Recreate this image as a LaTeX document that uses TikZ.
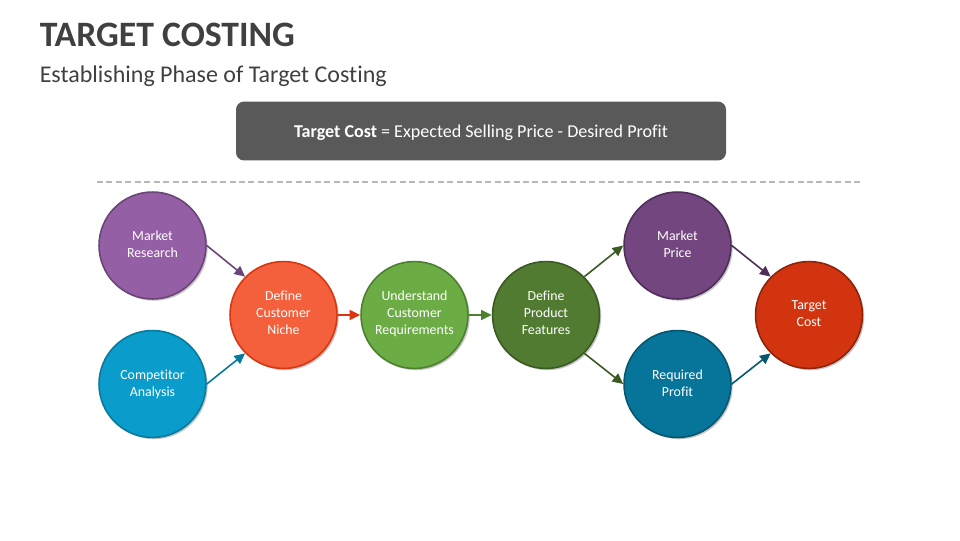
\documentclass[tikz,border=0pt]{standalone}
\usepackage{fontspec}
\setmainfont[Ligatures=NoCommon]{Carlito}
\usetikzlibrary{arrows.meta,shadows}
\definecolor{ink}{HTML}{404040}
\definecolor{boxgray}{HTML}{595959}
\definecolor{dashgray}{HTML}{B8B8B8}
\definecolor{purpleA}{HTML}{955FA5}\definecolor{purpleAd}{HTML}{6B4578}
\definecolor{blueA}{HTML}{0A9DCB}\definecolor{blueAd}{HTML}{087A9C}
\definecolor{orangeA}{HTML}{F4603C}\definecolor{orangeAd}{HTML}{D9360F}
\definecolor{greenA}{HTML}{6CAC44}\definecolor{greenAd}{HTML}{4D7F30}
\definecolor{greenB}{HTML}{527B32}\definecolor{greenBd}{HTML}{3B5A23}
\definecolor{purpleB}{HTML}{74467F}\definecolor{purpleBd}{HTML}{4F2F59}
\definecolor{blueB}{HTML}{07759A}\definecolor{blueBd}{HTML}{05566F}
\definecolor{redB}{HTML}{D2340F}\definecolor{redBd}{HTML}{8E240B}
\newcommand\lift[2][0pt]{\raisebox{#1}[\height][\depth]{\begin{tabular}{@{}c@{}}#2\end{tabular}}}
\tikzset{
  x=0.75pt,y=-0.75pt,
  softshadow/.style={
    general shadow={shadow xshift=1.4pt,shadow yshift=-1.4pt,fill=black,opacity=.06,scale=1.04},
    general shadow={shadow xshift=1.4pt,shadow yshift=-1.4pt,fill=black,opacity=.08,scale=1.02},
    general shadow={shadow xshift=1.2pt,shadow yshift=-1.2pt,fill=black,opacity=.10}},
  bubble/.style n args={2}{circle,minimum size=80.2pt,inner sep=0pt,line width=1.2pt,
    fill=#1,draw=#2,softshadow,text=white,
    font=\fontsize{10.4pt}{12.75pt}\selectfont},
  flow/.style={line width=1.2pt,-{Triangle[length=8pt,width=7.5pt]}},
}
\begin{document}
\begin{tikzpicture}
\useasboundingbox (0,0) rectangle (960,540);
\node[anchor=west,inner sep=0pt,text=ink,font=\fontsize{26.8pt}{30pt}\selectfont\bfseries] (title) at (39.5,34.5) {TARGET COSTING};
\node[anchor=west,inner sep=0pt,text=ink,font=\fontsize{18pt}{22pt}\selectfont] (sub) at (39.5,76) {Establishing Phase of Target Costing};
\node[rounded corners=6pt,fill=boxgray,minimum width=367.5pt,minimum height=44.2pt,inner sep=0pt,text=white,font=\fontsize{13.55pt}{16pt}\selectfont,text depth=0pt] (formula) at (481,131) {\textbf{Target Cost} = Expected Selling Price - Desired Profit};
\coordinate (dl) at (97,182);
\coordinate (dr) at (860,182);
\draw[dashgray,line width=1pt,dash pattern=on 4.5pt off 2.6pt] (dl) -- (dr);
\node[bubble={purpleA}{purpleAd}] (mr) at (152.5,245.5) {\lift{Market\\Research}};
\node[bubble={blueA}{blueAd}] (ca) at (152.5,384) {\lift[-0.6pt]{Competitor\\Analysis}};
\node[bubble={orangeA}{orangeAd}] (dc) at (283.5,315) {\lift[0.7pt]{Define\\Customer\\Niche}};
\node[bubble={greenA}{greenAd}] (uc) at (414.5,315) {\lift[0.7pt]{Understand\\Customer\\Requirements}};
\node[bubble={greenB}{greenBd}] (dp) at (546,315) {\lift[0.7pt]{Define\\Product\\Features}};
\node[bubble={purpleB}{purpleBd}] (mp) at (677.5,245.5) {\lift{Market\\Price}};
\node[bubble={blueB}{blueBd}] (rp) at (677.5,384) {\lift[-0.6pt]{Required\\Profit}};
\node[bubble={redB}{redBd}] (tc) at (809,315) {\lift{Target\\Cost}};
\draw[flow,purpleAd] (mr.east) -- (dc.135);
\draw[flow,blueAd] (ca.east) -- (dc.225);
\draw[flow,orangeAd] (dc) -- (uc);
\draw[flow,greenAd] (uc) -- (dp);
\draw[flow,greenBd] (dp.45) -- (mp.west);
\draw[flow,greenBd] (dp.-45) -- (rp.west);
\draw[flow,purpleBd] (mp.east) -- (tc.135);
\draw[flow,blueBd] (rp.east) -- (tc.225);
\end{tikzpicture}
\end{document}
